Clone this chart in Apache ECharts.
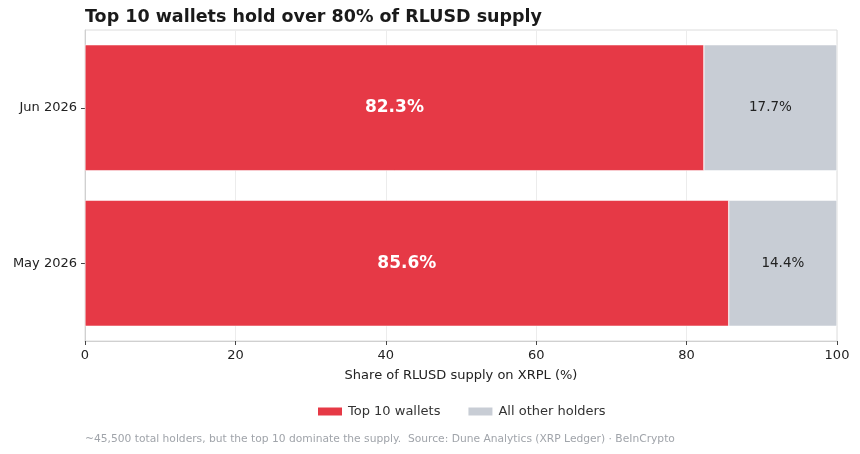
<!DOCTYPE html>
<html>
<head>
<meta charset="utf-8">
<script src="https://cdn.jsdelivr.net/npm/echarts@6/dist/echarts.min.js"></script>
<style>
  html, body { margin: 0; padding: 0; background: #fff; }
  #chart { width: 860px; height: 454px; }
</style>
</head>
<body>
<div id="chart"></div>
<script>
// categories bottom -> top
const months = ['May 2026', 'Jun 2026'];
const top10 = [85.6, 82.3];
const others = [14.4, 17.7];

const chart = echarts.init(document.getElementById('chart'));
const font = 'DejaVu Sans';

const option = {
    animation: false,
    textStyle: { fontFamily: font },
    title: {
        text: 'Top 10 wallets hold over 80% of RLUSD supply',
        left: 80,
        top: 3,
        textStyle: { fontSize: 17.5, fontWeight: 'bold', color: '#1a1a1a', fontFamily: font }
    },
    legend: {
        bottom: 31,
        left: 311,
        icon: 'rect',
        itemWidth: 26,
        itemHeight: 10,
        itemGap: 26,
        textStyle: { fontSize: 13, color: '#333', fontFamily: font },
        data: ['Top 10 wallets', 'All other holders']
    },
    graphic: [{
        type: 'text',
        left: 85,
        top: 434,
        style: {
            text: '~45,500 total holders, but the top 10 dominate the supply.  Source: Dune Analytics (XRP Ledger) · BeInCrypto',
            fill: '#a0a4aa',
            font: '10.7px "DejaVu Sans"'
        }
    }],
    grid: {
        left: 85,
        right: 23,
        top: 30,
        bottom: 113,
        show: true,
        borderColor: '#dcdcdc',
        borderWidth: 1
    },
    xAxis: {
        type: 'value',
        min: 0,
        max: 100,
        interval: 20,
        name: 'Share of RLUSD supply on XRPL (%)',
        nameLocation: 'middle',
        nameGap: 28,
        nameTextStyle: { fontSize: 13, color: '#222', fontFamily: font },
        axisLine: { show: true, lineStyle: { color: '#d0d0d0' } },
        axisTick: { show: true, length: 4, lineStyle: { color: '#444' } },
        axisLabel: { fontSize: 13, color: '#222', margin: 8, fontFamily: font },
        splitLine: { show: true, lineStyle: { color: '#ececec', width: 1 } }
    },
    yAxis: {
        type: 'category',
        data: months,
        axisLine: { show: true, lineStyle: { color: '#d0d0d0' } },
        axisTick: { show: true, alignWithLabel: true, length: 4, lineStyle: { color: '#444' } },
        axisLabel: { fontSize: 13, color: '#222', margin: 8, fontFamily: font },
        splitLine: { show: false }
    },
    series: [
        {
            name: 'Top 10 wallets',
            type: 'bar',
            stack: 'share',
            barWidth: '81%',
            data: top10,
            itemStyle: { color: '#e63946', borderColor: '#ffffff', borderWidth: 0.5 },
            label: {
                show: true,
                position: 'inside',
                formatter: p => p.value.toFixed(1) + '%',
                color: '#ffffff',
                fontSize: 17,
                fontWeight: 'bold',
                fontFamily: font
            }
        },
        {
            name: 'All other holders',
            type: 'bar',
            stack: 'share',
            barWidth: '81%',
            data: others,
            itemStyle: { color: '#c8cdd5', borderColor: '#ffffff', borderWidth: 0.5 },
            label: {
                show: true,
                position: 'inside',
                formatter: p => p.value.toFixed(1) + '%',
                color: '#222222',
                fontSize: 13.5,
                fontFamily: font
            }
        }
    ]
};

chart.setOption(option);
</script>
</body>
</html>
